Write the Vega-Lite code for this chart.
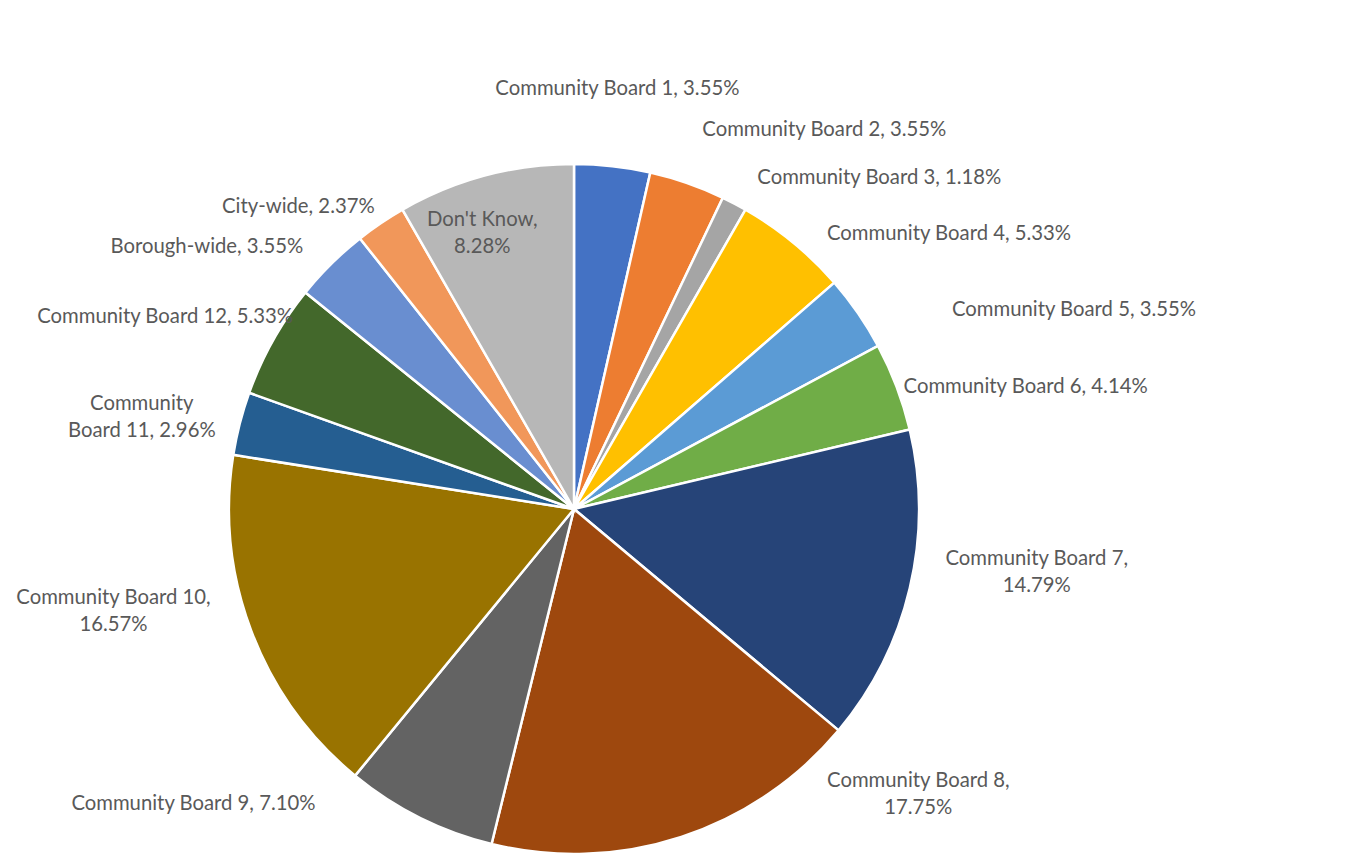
{
  "$schema": "https://vega.github.io/schema/vega-lite/v6.json",
  "autosize": {"type": "none"},
  "width": 1148,
  "height": 694,
  "padding": {"left": 0, "top": 162, "right": 198, "bottom": 0},
  "background": "white",
  "config": {"view": {"stroke": null}, "text": {"font": "Lato", "fontSize": 20.3, "fill": "#595959", "lineBreak": "\n", "lineHeight": 27, "baseline": "middle"}},
  "data": {"values": [
    {"idx": 1, "cat": "Community Board 1", "pct": 3.55, "label": "Community Board 1, 3.55%"},
    {"idx": 2, "cat": "Community Board 2", "pct": 3.55, "label": "Community Board 2, 3.55%"},
    {"idx": 3, "cat": "Community Board 3", "pct": 1.18, "label": "Community Board 3, 1.18%"},
    {"idx": 4, "cat": "Community Board 4", "pct": 5.33, "label": "Community Board 4, 5.33%"},
    {"idx": 5, "cat": "Community Board 5", "pct": 3.55, "label": "Community Board 5, 3.55%"},
    {"idx": 6, "cat": "Community Board 6", "pct": 4.14, "label": "Community Board 6, 4.14%"},
    {"idx": 7, "cat": "Community Board 7", "pct": 14.79, "label": "Community Board 7,\n14.79%"},
    {"idx": 8, "cat": "Community Board 8", "pct": 17.75, "label": "Community Board 8,\n17.75%"},
    {"idx": 9, "cat": "Community Board 9", "pct": 7.10, "label": "Community Board 9, 7.10%"},
    {"idx": 10, "cat": "Community Board 10", "pct": 16.57, "label": "Community Board 10,\n16.57%"},
    {"idx": 11, "cat": "Community Board 11", "pct": 2.96, "label": "Community\nBoard 11, 2.96%"},
    {"idx": 12, "cat": "Community Board 12", "pct": 5.33, "label": "Community Board 12, 5.33%"},
    {"idx": 13, "cat": "Borough-wide", "pct": 3.55, "label": "Borough-wide, 3.55%"},
    {"idx": 14, "cat": "City-wide", "pct": 2.37, "label": "City-wide, 2.37%"},
    {"idx": 15, "cat": "Don't Know", "pct": 8.28, "label": "Don't Know,\n8.28%"}
  ]},
  "encoding": {
    "theta": {"field": "pct", "type": "quantitative", "stack": true},
    "order": {"field": "idx", "type": "quantitative", "sort": "ascending"}
  },
  "layer": [
    {
      "mark": {"type": "arc", "outerRadius": 345, "stroke": "white", "strokeWidth": 2.5},
      "encoding": {
        "color": {"field": "cat", "type": "nominal", "legend": null,
          "scale": {
            "domain": ["Community Board 1","Community Board 2","Community Board 3","Community Board 4","Community Board 5","Community Board 6","Community Board 7","Community Board 8","Community Board 9","Community Board 10","Community Board 11","Community Board 12","Borough-wide","City-wide","Don't Know"],
            "range": ["#4472C4","#ED7D31","#A5A5A5","#FFC000","#5B9BD5","#70AD47","#264478","#9E480E","#636363","#997300","#255E91","#43682B","#698ED0","#F1975A","#B7B7B7"]
          }}
      }
    },
    {"mark": {"type": "text", "radius": 345, "align": "center", "dx": 5, "dy": -77},
     "encoding": {"detail": {"field": "cat"}, "text": {"condition": {"test": "datum.cat === 'Community Board 1'", "field": "label"}, "value": ""}}},
    {"mark": {"type": "text", "radius": 345, "align": "left", "dx": 15, "dy": -53},
     "encoding": {"detail": {"field": "cat"}, "text": {"condition": {"test": "datum.cat === 'Community Board 2'", "field": "label"}, "value": ""}}},
    {"mark": {"type": "text", "radius": 345, "align": "left", "dx": 23, "dy": -25},
     "encoding": {"detail": {"field": "cat"}, "text": {"condition": {"test": "datum.cat === 'Community Board 3'", "field": "label"}, "value": ""}}},
    {"mark": {"type": "text", "radius": 345, "align": "left", "dx": 34, "dy": -8},
     "encoding": {"detail": {"field": "cat"}, "text": {"condition": {"test": "datum.cat === 'Community Board 4'", "field": "label"}, "value": ""}}},
    {"mark": {"type": "text", "radius": 345, "align": "left", "dx": 94, "dy": -3},
     "encoding": {"detail": {"field": "cat"}, "text": {"condition": {"test": "datum.cat === 'Community Board 5'", "field": "label"}, "value": ""}}},
    {"mark": {"type": "text", "radius": 345, "align": "left", "dx": 7, "dy": 0},
     "encoding": {"detail": {"field": "cat"}, "text": {"condition": {"test": "datum.cat === 'Community Board 6'", "field": "label"}, "value": ""}}},
    {"mark": {"type": "text", "radius": 345, "align": "center", "dx": 127, "dy": -29},
     "encoding": {"detail": {"field": "cat"}, "text": {"condition": {"test": "datum.cat === 'Community Board 7'", "field": "label"}, "value": ""}}},
    {"mark": {"type": "text", "radius": 345, "align": "center", "dx": 237, "dy": -56},
     "encoding": {"detail": {"field": "cat"}, "text": {"condition": {"test": "datum.cat === 'Community Board 8'", "field": "label"}, "value": ""}}},
    {"mark": {"type": "text", "radius": 345, "align": "right", "dx": -104, "dy": -13},
     "encoding": {"detail": {"field": "cat"}, "text": {"condition": {"test": "datum.cat === 'Community Board 9'", "field": "label"}, "value": ""}}},
    {"mark": {"type": "text", "radius": 345, "align": "center", "dx": -138, "dy": -33},
     "encoding": {"detail": {"field": "cat"}, "text": {"condition": {"test": "datum.cat === 'Community Board 10'", "field": "label"}, "value": ""}}},
    {"mark": {"type": "text", "radius": 345, "align": "center", "dx": -98, "dy": -19},
     "encoding": {"detail": {"field": "cat"}, "text": {"condition": {"test": "datum.cat === 'Community Board 11'", "field": "label"}, "value": ""}}},
    {"mark": {"type": "text", "radius": 345, "align": "right", "dx": 20, "dy": -23},
     "encoding": {"detail": {"field": "cat"}, "text": {"condition": {"test": "datum.cat === 'Community Board 12'", "field": "label"}, "value": ""}}},
    {"mark": {"type": "text", "radius": 345, "align": "right", "dx": -28, "dy": -17},
     "encoding": {"detail": {"field": "cat"}, "text": {"condition": {"test": "datum.cat === 'Borough-wide'", "field": "label"}, "value": ""}}},
    {"mark": {"type": "text", "radius": 345, "align": "right", "dx": -6, "dy": -16},
     "encoding": {"detail": {"field": "cat"}, "text": {"condition": {"test": "datum.cat === 'City-wide'", "field": "label"}, "value": ""}}},
    {"mark": {"type": "text", "radius": 345, "align": "center", "dx": -3, "dy": 44},
     "encoding": {"detail": {"field": "cat"}, "text": {"condition": {"test": "datum.cat === \"Don't Know\"", "field": "label"}, "value": ""}}}
  ]
}
